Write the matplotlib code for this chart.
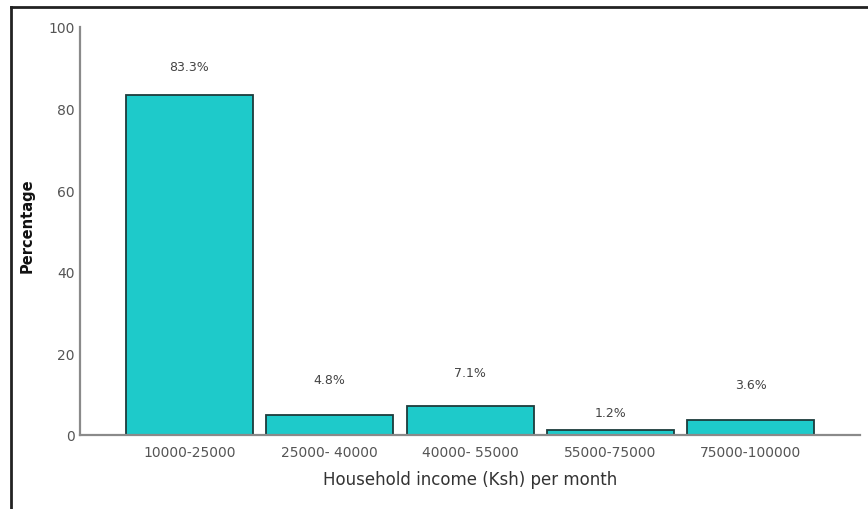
import matplotlib
matplotlib.use("Agg")
import matplotlib.pyplot as plt
from matplotlib.lines import Line2D

# household income groups and share of respondents (%)
categories = ["10000-25000", "25000- 40000", "40000- 55000", "55000-75000", "75000-100000"]
percentages = [83.3, 4.8, 7.1, 1.2, 3.6]

# how far above each bar its value label sits
label_gap = [7.1, 8.9, 8.1, 4.4, 8.7]

fig = plt.figure(figsize=(8.68, 5.1), dpi=100)
ax = fig.add_axes([0.0922, 0.1451, 0.8986, 0.80])

x = range(len(categories))
ax.bar(x, percentages, width=0.905, color="#1ecaca", edgecolor="#1d3b3b", linewidth=1.3, zorder=2)

for i, v in enumerate(percentages):
	ax.text(i, v + label_gap[i], f"{v}%", ha="center", va="center", fontsize=9, color="#444444")

ax.set_xlim(-0.78, 4.78)
ax.set_ylim(0, 100)
ax.set_yticks([0, 20, 40, 60, 80, 100])
ax.set_xticks(list(x))
ax.set_xticklabels(categories)
ax.tick_params(axis="both", length=0, labelsize=10, labelcolor="#555555")
ax.tick_params(axis="y", pad=4)
ax.tick_params(axis="x", pad=7)

for side in ["top", "right"]:
	ax.spines[side].set_visible(False)
for side in ["left", "bottom"]:
	ax.spines[side].set_color("#8a8a8a")
	ax.spines[side].set_linewidth(1.6)

ax.set_xlabel("Household income (Ksh) per month", fontsize=12, color="#333333", labelpad=8)
ax.set_ylabel("Percentage", fontsize=10.5, fontweight="bold", color="#111111")
ax.yaxis.set_label_coords(-0.058, 0.515)

# frame lines along the top and left of the figure
fig.add_artist(Line2D([0.0121, 1.0], [0.985, 0.985], transform=fig.transFigure, color="#222222", linewidth=2))
fig.add_artist(Line2D([0.0121, 0.0121], [0.0, 0.985], transform=fig.transFigure, color="#222222", linewidth=2))

fig.savefig("out.png", dpi=100)
